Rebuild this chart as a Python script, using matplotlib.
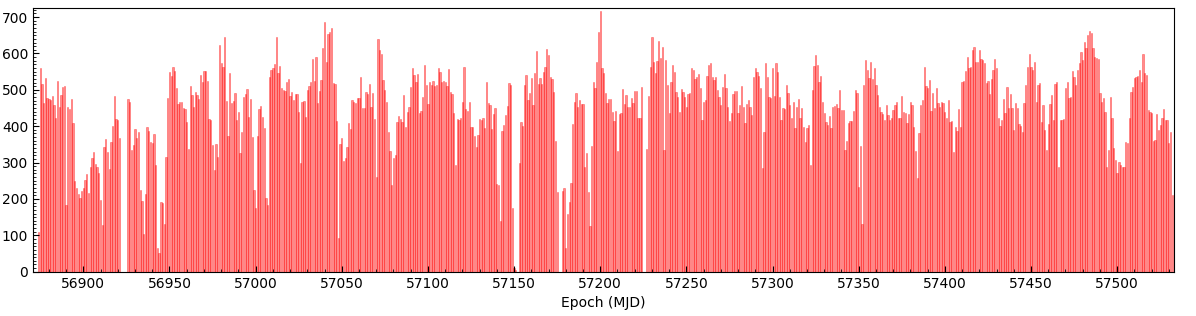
import numpy as np
import matplotlib
matplotlib.use("Agg")
import matplotlib.pyplot as plt
from matplotlib.ticker import MultipleLocator

# ──────────────────────────────────────────────
# Data: daily counts
# (0 = no observation that day)
# ──────────────────────────────────────────────
FIRST_EPOCH = 56874

counts_56874 = [108, 559, 515, 463, 532, 478, 474, 472, 482, 458,
                422, 524, 454, 486, 508, 510, 183, 454, 447, 474,
                410, 249, 231, 213, 203, 222, 231, 253, 269, 217,
                289, 312, 330, 297, 289, 270, 198, 128, 343, 365,
                330, 281, 356, 400, 484, 419, 417, 368, 0, 0, 0, 0]
counts_56926 = [474, 467, 335, 348, 391, 368, 384, 225, 194, 104,
                214, 397, 387, 357, 355, 378, 293, 64, 52, 192,
                190, 131, 316, 478, 550, 537, 562, 552, 504, 461,
                467, 467, 449, 447, 412, 337, 510, 486, 454, 495,
                486, 475, 541, 522, 553, 553, 524, 420, 417, 348,
                280, 350, 316, 623, 575, 562, 646]
counts_56983 = [469, 374, 545, 465, 469, 490, 417, 438, 327, 385,
                481, 488, 502, 425, 475, 369, 225, 174, 374, 447,
                456, 424, 396, 203, 183, 536, 554, 559, 572, 645,
                545, 565, 504, 500, 497, 521, 530, 484, 493, 472,
                488, 489, 440, 298, 467, 469, 425, 499, 510, 522,
                585, 524, 589, 463, 498]
counts_57038 = [527, 614, 687, 577, 653, 660, 669, 520, 515, 414,
                92, 350, 368, 304, 312, 344, 408, 392, 472, 467,
                463, 477, 478, 536, 451, 449, 495, 488, 516, 454,
                490, 420, 261, 639, 610, 598, 527, 500, 467, 385,
                332, 238, 312, 321, 412, 428, 420, 412, 486, 399,
                438, 452, 509, 559, 541]
counts_57093 = [521, 544, 435, 442, 481, 568, 513, 461, 521, 513,
                524, 511, 513, 561, 550, 522, 524, 522, 511, 556,
                493, 488, 435, 293, 419, 417, 422, 467, 564, 447,
                442, 466, 399, 399, 373, 344, 376, 420, 417, 422,
                394, 521, 463, 458, 392, 434, 449, 240, 238, 139,
                387, 403, 431, 456, 518]
counts_57148 = [513, 174, 9, 5, 0, 298, 411, 401, 513, 541,
                472, 490, 532, 458, 547, 607, 515, 532, 516, 550,
                564, 612, 596, 536, 530, 493, 359, 218, 0, 0,
                222, 229, 64, 160, 192, 243, 406, 467, 492, 454,
                472, 460, 460, 289, 327, 220, 126, 346, 522, 506,
                576, 660, 717]
counts_57201 = [559, 545, 492, 463, 474, 475, 440, 414, 442, 333,
                433, 435, 502, 461, 486, 454, 452, 478, 463, 498,
                498, 423, 422, 509, 0, 0, 336, 484, 562, 644,
                577, 545, 579, 634, 587, 619, 335, 582, 513, 435,
                522, 568, 550, 495, 480, 440, 501, 493, 481, 454,
                488, 490, 561, 555, 530, 536, 543, 504]
counts_57259 = [417, 467, 472, 539, 568, 575, 536, 527, 536, 500,
                481, 458, 509, 543, 504, 454, 414, 435, 488, 497,
                497, 435, 458, 511, 454, 408, 460, 472, 454, 431,
                534, 561, 550, 538, 506, 284, 383, 575, 536, 481,
                478, 559, 484, 575, 550, 481, 417, 449, 447, 513,
                490, 458, 423, 467, 396]
counts_57314 = [454, 474, 422, 451, 399, 357, 396, 403, 293, 500,
                566, 596, 568, 522, 539, 467, 435, 412, 403, 428,
                394, 454, 456, 460, 449, 500, 445, 445, 335, 359,
                408, 415, 414, 442, 500, 490, 234, 346, 130, 513,
                582, 555, 532, 577, 530, 559, 513, 486, 454, 440,
                433, 417, 458, 431]
counts_57368 = [417, 422, 445, 458, 467, 422, 422, 484, 440, 435,
                408, 433, 467, 458, 399, 333, 257, 380, 458, 472,
                564, 511, 504, 527, 442, 490, 449, 504, 463, 454,
                467, 463, 440, 422, 472, 412, 414, 330, 399, 387,
                447, 397, 522, 524, 552, 591, 561, 564, 610, 619,
                577, 577, 610, 585, 582, 573]
counts_57424 = [518, 524, 488, 530, 555, 585, 559, 422, 401, 417,
                475, 435, 509, 451, 488, 449, 390, 463, 451, 405,
                401, 385, 463, 513, 564, 598, 564, 555, 577, 467,
                513, 518, 412, 458, 390, 335, 405, 460, 486, 417,
                515, 522, 289, 417, 417, 420, 506, 522, 477, 481,
                552, 536, 513, 555, 573]
counts_57479 = [605, 582, 631, 614, 651, 662, 655, 616, 591, 587,
                585, 490, 467, 478, 440, 289, 335, 481, 422, 341,
                307, 270, 302, 293, 287, 287, 357, 353, 422, 493,
                509, 532, 534, 539, 555, 522, 598, 545, 541, 445,
                440, 435, 359, 362, 433, 390, 403, 422, 447, 417,
                417, 353, 385, 211]

counts = np.array(counts_56874 + counts_56926 + counts_56983 + counts_57038
                  + counts_57093 + counts_57148 + counts_57201 + counts_57259
                  + counts_57314 + counts_57368 + counts_57424 + counts_57479)
epochs = FIRST_EPOCH + np.arange(len(counts))


# ──────────────────────────────────────────────
# Plot
# ──────────────────────────────────────────────
fig = plt.figure(figsize=(11.96, 3.16), dpi=100)
ax = fig.add_axes([0.0276, 0.1402, 0.9540, 0.8345])

ax.bar(epochs, counts, width=0.75, color="red", alpha=0.45,
       edgecolor="red", linewidth=0.5)

ax.set_xlim(56870.8, 57533.0)
ax.set_ylim(0, 725)
ax.set_xlabel("Epoch (MJD)", fontsize=10)

ax.xaxis.set_major_locator(MultipleLocator(50))
ax.xaxis.set_minor_locator(MultipleLocator(10))
ax.yaxis.set_major_locator(MultipleLocator(100))
ax.yaxis.set_minor_locator(MultipleLocator(10))
ax.tick_params(which="both", direction="in", labelsize=10)
ax.tick_params(which="major", length=4)
ax.tick_params(which="minor", length=2)

fig.savefig("out.png", dpi=100)
